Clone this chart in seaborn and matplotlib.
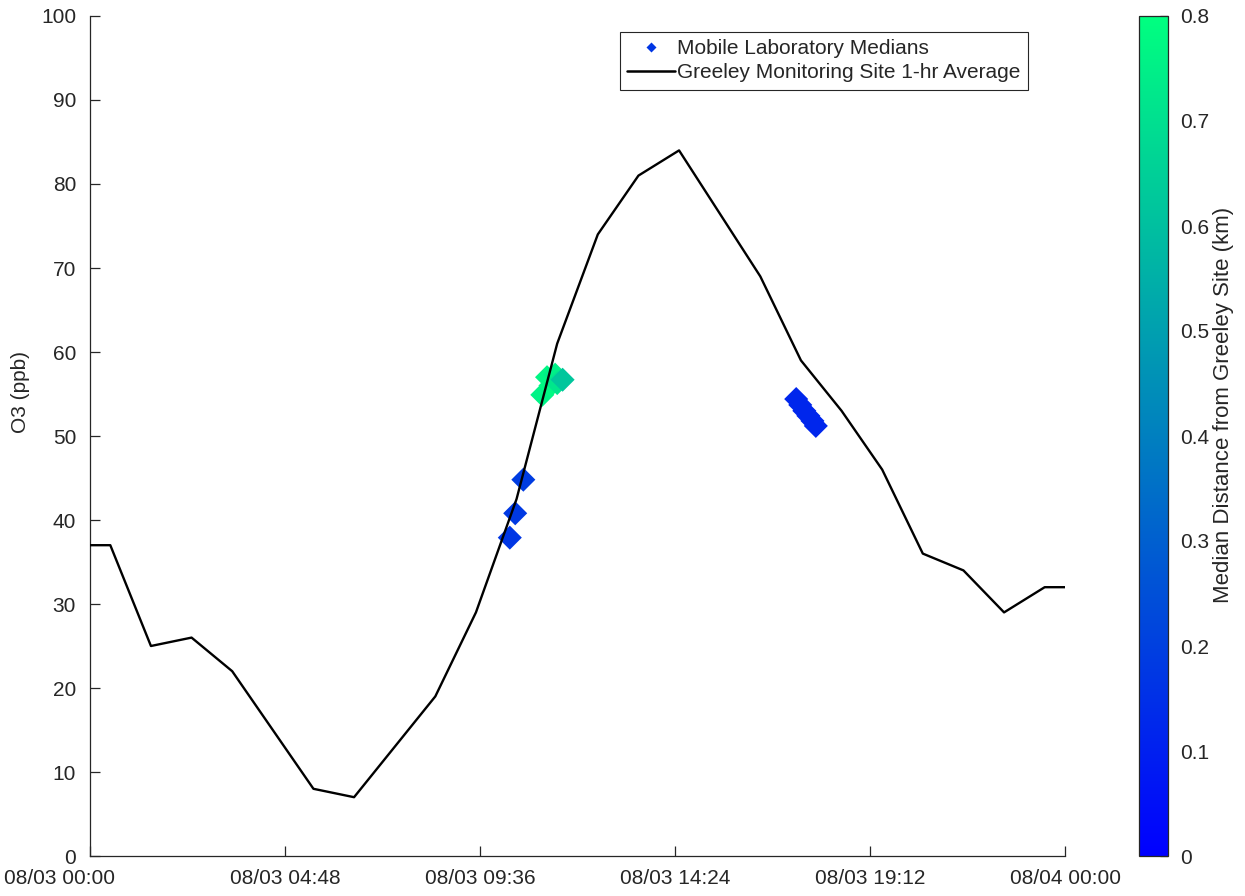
import numpy as np
import pandas as pd
import matplotlib
matplotlib.use("Agg")
import matplotlib.pyplot as plt
import matplotlib.transforms as mtransforms
from matplotlib.lines import Line2D
from matplotlib.colors import Normalize
from matplotlib.cm import ScalarMappable
import seaborn as sns

# ---------------- data ----------------
site_times = ["2019-08-02 23:30", "2019-08-03 00:30", "2019-08-03 01:30", "2019-08-03 02:30",
              "2019-08-03 03:30", "2019-08-03 04:30", "2019-08-03 05:30", "2019-08-03 06:30",
              "2019-08-03 07:30", "2019-08-03 08:30", "2019-08-03 09:30", "2019-08-03 10:30",
              "2019-08-03 11:30", "2019-08-03 12:30", "2019-08-03 13:30", "2019-08-03 14:30",
              "2019-08-03 15:30", "2019-08-03 16:30", "2019-08-03 17:30", "2019-08-03 18:30",
              "2019-08-03 19:30", "2019-08-03 20:30", "2019-08-03 21:30", "2019-08-03 22:30",
              "2019-08-03 23:30", "2019-08-04 00:30"]
site_o3 = [37, 37, 25, 26, 22, 15, 8, 7, 13, 19, 29, 42.5, 61, 74, 81, 84,
           76.5, 69, 59, 53, 46, 36, 34, 29, 32, 32]

mob_times = ["2019-08-03 10:20", "2019-08-03 10:28", "2019-08-03 10:40",
             "2019-08-03 11:08", "2019-08-03 11:15", "2019-08-03 11:20",
             "2019-08-03 11:27", "2019-08-03 11:30", "2019-08-03 11:38",
             "2019-08-03 17:23", "2019-08-03 17:29", "2019-08-03 17:35",
             "2019-08-03 17:41", "2019-08-03 17:47", "2019-08-03 17:52"]
mob_o3 = [37.9, 40.8, 44.8, 54.9, 57.0, 56.0, 57.3, 56.3, 56.7,
          54.4, 53.7, 53.0, 52.4, 51.8, 51.2]
mob_dist = [0.17, 0.18, 0.19, 0.76, 0.77, 0.78, 0.75, 0.72, 0.62,
            0.12, 0.12, 0.12, 0.12, 0.12, 0.12]

xtick_labels = ["08/03 00:00", "08/03 04:48", "08/03 09:36", "08/03 14:24",
                "08/03 19:12", "08/04 00:00"]
ytick_values = [0, 10, 20, 30, 40, 50, 60, 70, 80, 90, 100]
cbar_ticks = [0, 0.1, 0.2, 0.3, 0.4, 0.5, 0.6, 0.7, 0.8]

# ---------------- style ----------------
sns.set_style("white")
plt.rcParams["font.family"] = ["Liberation Sans", "DejaVu Sans"]
GRAY = "#262626"

site_df = pd.DataFrame({"time": pd.to_datetime(site_times), "o3": site_o3})
mob_df = pd.DataFrame({"time": pd.to_datetime(mob_times), "o3": mob_o3, "dist": mob_dist})

fig = plt.figure(figsize=(12.45, 8.96), dpi=100)
ax = fig.add_axes([90 / 1245, 40 / 896, 975 / 1245, 840 / 896])

cmap = plt.get_cmap("winter")
norm = Normalize(0, 0.8)

sns.scatterplot(data=mob_df, x="time", y="o3", hue="dist", palette="winter",
                hue_norm=(0, 0.8), marker="D", s=150, linewidth=0, legend=False,
                ax=ax, zorder=2)
sns.lineplot(data=site_df, x="time", y="o3", color="black", linewidth=1.7,
             ax=ax, zorder=3)

xticks = [pd.Timestamp("2019/" + t) for t in xtick_labels]
ax.set_xlim(xticks[0], xticks[-1])
ax.set_ylim(0, 100)
ax.set_xticks(xticks)
ax.set_xticklabels(xtick_labels)
ax.set_yticks(ytick_values)
ax.set_yticklabels([str(v) for v in ytick_values])
ax.set_xlabel("")
ax.set_ylabel("O3 (ppb)", fontsize=15, color=GRAY)
ax.yaxis.set_label_coords(-0.062, 0.552)

for side in ["top", "right"]:
    ax.spines[side].set_visible(False)
for side in ["left", "bottom"]:
    ax.spines[side].set_color(GRAY)
    ax.spines[side].set_linewidth(0.9)
ax.tick_params(axis="both", direction="in", length=7, width=0.9, colors=GRAY,
               labelsize=15, left=True, bottom=True)
ax.tick_params(axis="x", pad=9)
ax.tick_params(axis="y", pad=10)

# first x tick label shifted like the reference
first = ax.get_xticklabels()[0]
first.set_transform(first.get_transform() +
                    mtransforms.ScaledTranslation(-0.31, 0, fig.dpi_scale_trans))

# legend
handles = [Line2D([], [], linestyle="none", marker="D", markersize=5,
                  markerfacecolor=cmap(norm(0.17)), markeredgecolor="none"),
           Line2D([], [], color="black", linewidth=1.8)]
leg = ax.legend(handles, ["Mobile Laboratory Medians",
                          "Greeley Monitoring Site 1-hr Average"],
                loc="upper left", bbox_to_anchor=(0.5436, 0.981), borderaxespad=0,
                fontsize=15, frameon=True, fancybox=False, framealpha=1,
                edgecolor=GRAY, handlelength=2.3, handletextpad=0.1,
                borderpad=0.35, labelspacing=0.25)
leg.get_frame().set_linewidth(0.8)
for t in leg.get_texts():
    t.set_color(GRAY)

# colorbar
cax = fig.add_axes([1139 / 1245, 40 / 896, 29 / 1245, 840 / 896])
sm = ScalarMappable(norm=norm, cmap=cmap)
cb = fig.colorbar(sm, cax=cax)
cb.set_ticks(cbar_ticks)
cb.set_ticklabels([f"{v:g}" for v in cbar_ticks])
cb.outline.set_edgecolor(GRAY)
cb.outline.set_linewidth(0.9)
cax.tick_params(direction="in", length=6, width=0.9, colors=GRAY, labelsize=15, pad=9)
cb.set_label("Median Distance from Greeley Site (km)", fontsize=16, color=GRAY)
cax.yaxis.set_label_coords(2.55, 0.537)

fig.savefig("out.png", dpi=100)
